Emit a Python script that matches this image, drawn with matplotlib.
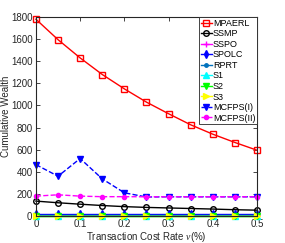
import numpy as np
import matplotlib
matplotlib.use('Agg')
import matplotlib.pyplot as plt

plt.rcParams['font.family'] = ['Liberation Sans', 'DejaVu Sans']
plt.rcParams['mathtext.fontset'] = 'custom'
plt.rcParams['mathtext.it'] = 'Liberation Serif:italic'

# transaction cost rate (%)
rates = [0, 0.05, 0.1, 0.15, 0.2, 0.25, 0.3, 0.35, 0.4, 0.45, 0.5]

mpaerl = [1780, 1595, 1430, 1280, 1150, 1030, 925, 825, 740, 665, 595]
ssmp = [135, 120, 107, 95, 85, 78, 73, 68, 63, 57, 53]
sspo = [5, 5, 5, 5, 5, 5, 5, 5, 5, 5, 5]
spolc = [15, 15, 15, 15, 15, 15, 15, 15, 15, 15, 15]
rprt = [12, 12, 12, 12, 12, 12, 12, 12, 12, 12, 12]
s1 = [2, 2, 2, 2, 2, 2, 2, 2, 2, 2, 2]
s2 = [1, 1, 1, 1, 1, 1, 1, 1, 1, 1, 1]
s3 = [0, 0, 0, 0, 0, 0, 0, 0, 0, 0, 0]
mcfps1 = [465, 360, 520, 336, 210, 172, 174, 174, 174, 174, 174]
mcfps2 = [180, 192, 180, 175, 175, 174, 174, 174, 174, 174, 174]

dark = '#262626'

fig = plt.figure(figsize=(2.85, 2.43), dpi=100)
ax = fig.add_axes([0.126, 0.111, 0.776, 0.819])

ms = 4
ax.plot(rates, mpaerl, color='red', marker='s', ms=ms, mfc='none', lw=1, label='MPAERL', clip_on=False)
ax.plot(rates, ssmp, color='black', marker='o', ms=ms, mfc='none', lw=1, label='SSMP', clip_on=False)
ax.plot(rates, sspo, color='magenta', marker='+', ms=ms + 1, lw=1, label='SSPO', clip_on=False)
ax.plot(rates, spolc, color='blue', marker='d', ms=ms, lw=1, label='SPOLC', clip_on=False)
ax.plot(rates, rprt, color='#0072BD', marker='.', ms=ms + 1, lw=1, label='RPRT', clip_on=False)
ax.plot(rates, s1, color='cyan', marker='^', ms=ms, lw=1, label='S1', clip_on=False)
ax.plot(rates, s2, color='#00FF00', marker='v', ms=ms, lw=1, label='S2', clip_on=False)
ax.plot(rates, s3, color='yellow', marker='>', ms=ms, lw=1, label='S3', clip_on=False)
ax.plot(rates, mcfps1, color='blue', ls='--', marker='v', ms=ms, lw=1, label='MCFPS(I)', clip_on=False)
ax.plot(rates, mcfps2, color='magenta', ls='--', marker='o', ms=3, lw=1, label='MCFPS(II)', clip_on=False)

ax.set_xlim(0, 0.5)
ax.set_ylim(0, 1800)
ax.set_xticks([0, 0.1, 0.2, 0.3, 0.4, 0.5])
ax.set_xticklabels(['0', '0.1', '0.2', '0.3', '0.4', '0.5'])
ax.set_yticks(np.arange(0, 1801, 200))
ax.tick_params(direction='in', top=True, right=True, labelsize=7, length=3,
               width=0.6, pad=2.5, colors=dark, labelcolor=dark)
for s in ax.spines.values():
    s.set_linewidth(0.8)
    s.set_color(dark)

ax.set_xlabel(r'Transaction Cost Rate $\nu$(%)', fontsize=7, color=dark)
ax.set_ylabel('Cumulative Wealth', fontsize=7, color=dark)
ax.xaxis.set_label_coords(0.5, -0.07)
ax.xaxis.label.set_va('top')
ax.yaxis.set_label_coords(-0.112, 0.5)

leg = ax.legend(loc='upper right', fontsize=6.5, borderaxespad=0, handlelength=1.2,
                handletextpad=0.1, labelspacing=0.17, borderpad=0.2, fancybox=False,
                framealpha=1)
leg.get_frame().set_edgecolor(dark)
leg.get_frame().set_linewidth(0.6)

fig.savefig('out.png', dpi=100)
